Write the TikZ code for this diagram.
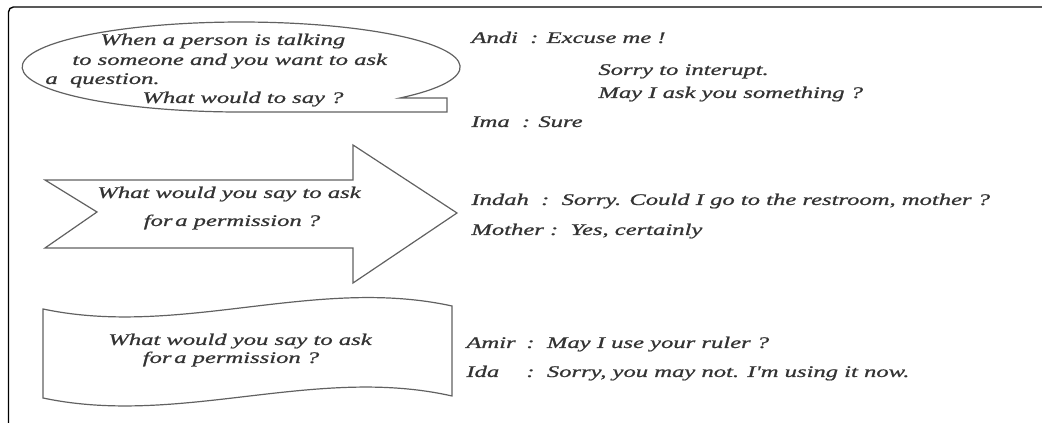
\documentclass[tikz,border=0pt]{standalone}
\usepackage{fontspec}
\newfontfamily\talkfont[FakeStretch=1.52,FakeBold=0.9]{Liberation Serif}

\tikzset{
  outline/.style={draw=black!62,line width=0.6pt,line join=miter},
  talk/.style={inner sep=0pt,anchor=base west,text=black!80,
    font=\talkfont\itshape\fontsize{8.1}{9.6}\selectfont},
}

\begin{document}
\begin{tikzpicture}[x=0.5pt,y=0.5pt]
\useasboundingbox (0,0) rectangle (1042,426);

% page frame
\draw[line width=0.7pt,rounded corners=2.5pt] (1042,419) -- (8.5,419) -- (8.5,3);

% callout bubble
\draw[outline] (400,328) arc[start angle=-43.5,end angle=270,x radius=219,y radius=45]
	-- (447,314) -- (447,328) -- cycle;
\node[talk] (askA) at (100,381) {When a person is talking};
\node[talk] (askB) at (72,361) {to someone and you want to ask};
\node[talk] (askC) at (45,342) {a\ \ question.};
\node[talk] (askD) at (142,323) {What would to say ?};

% block arrow
\draw[outline] (45,246) -- (97,214) -- (45,178) -- (353,178) -- (353,143)
	-- (457,213) -- (353,281) -- (353,246) -- cycle;
\node[talk,anchor=base] (permA) at (229,228) {What would you say to ask};
\node[talk,anchor=base] (permB) at (232,200) {for\,a permission ?};

% wave banner
\draw[outline] (43,117) .. controls (180,88) and (315,150) .. (452,120)
	-- (452,30) .. controls (315,61) and (180,-1) .. (43,28) -- cycle;
\node[talk,anchor=base] (refA) at (240,81) {What would you say to ask};
\node[talk,anchor=base] (refB) at (231,63) {for\,a permission ?};

% dialogues
\node[talk] (andi) at (471,383) {Andi\ \ : Excuse me !};
\node[talk] (andiB) at (598,351) {Sorry to interupt.};
\node[talk] (andiC) at (598,328) {May I ask you something ?};
\node[talk] (ima) at (471,299) {Ima\ \ : Sure};

\node[talk] (indah) at (471,221) {Indah\ \ :\ \ Sorry. Could I go to the restroom, mother ?};
\node[talk] (mother) at (471,191) {Mother :\ \ Yes, certainly};

\node[talk] (amir) at (466,78) {\makebox[30pt][l]{Amir}:\ \ May I use your ruler ?};
\node[talk] (ida) at (466,49) {\makebox[30pt][l]{Ida}:\ \ Sorry, you may not. I'm using it now.};
\end{tikzpicture}
\end{document}
